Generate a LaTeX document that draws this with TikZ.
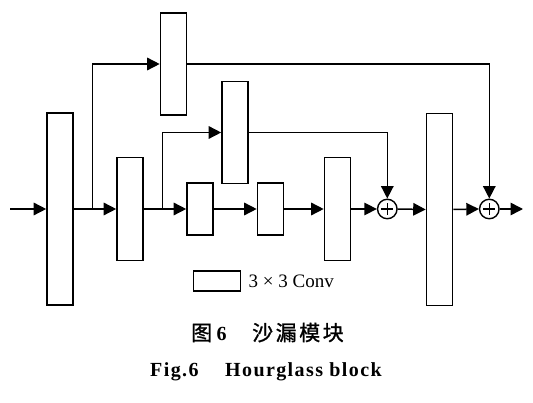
\documentclass[tikz,border=0pt]{standalone}
\usepackage{fontspec}
\setmainfont{Liberation Serif}
\newfontfamily\cjk[FakeBold=1.2]{Noto Sans CJK SC}
\usetikzlibrary{arrows.meta}
\begin{document}
\begin{tikzpicture}[x=1pt,y=-1pt,
  box/.style={draw,line width=1.6pt,inner sep=0pt,minimum width=26pt,fill=white},
  con/.style={line width=1.5pt,-{Triangle[length=12.5pt,width=12.5pt]}},
  plus/.style={draw,circle,line width=1.4pt,inner sep=0pt,minimum size=19.5pt,
    path picture={
      \draw[line width=1.2pt] ([xshift=-6pt]path picture bounding box.center) -- ([xshift=6pt]path picture bounding box.center);
      \draw[line width=1.2pt] ([yshift=-6pt]path picture bounding box.center) -- ([yshift=6pt]path picture bounding box.center);}},
  txt/.style={inner sep=0pt,anchor=base west}
]
\useasboundingbox (0,0) rectangle (533,403);

% boxes
\node[box,minimum height=192pt] (b1) at (60,209) {};
\node[box,minimum height=103pt] (b2) at (130,209) {};
\node[box,minimum height=102pt] (top) at (173.5,64) {};
\node[box,minimum height=102pt] (mid) at (235,132.5) {};
\node[box,minimum height=52pt] (s1) at (200,209) {};
\node[box,minimum height=52pt] (s2) at (270.5,209) {};
\node[box,minimum height=103pt] (b3) at (337.5,209) {};
\node[plus] (p1) at (387.3,209) {};
\node[box,minimum height=192pt] (b4) at (439.5,209.5) {};
\node[plus] (p2) at (489.3,209) {};

\coordinate (in) at (10,209);
\coordinate (out) at (523,209);
\coordinate (br1) at (92.3,209);
\coordinate (br2) at (162.3,209);

% main chain
\draw[con] (in) -- (b1.west);
\draw[con] (b1.east) -- (b2.west);
\draw[con] (b2.east) -- (s1.west);
\draw[con] (s1.east) -- (s2.west);
\draw[con] (s2.east) -- (b3.west);
\draw[con] (b3.east) -- (p1.west);
\draw[con] (p1.east) -- (b4.west);
\draw[con] (b4.east) -- (p2.west);
\draw[con] (p2.east) -- (out);

% skip branches
\draw[con] (br1) |- (top.west);
\draw[con] (br2) |- (mid.west);
\draw[con] (top.east) -| (p2.north);
\draw[con] (mid.east) -| (p1.north);

% legend
\node[draw,line width=1.4pt,inner sep=0pt,minimum width=47pt,minimum height=20pt] (leg) at (217,281) {};
\node[txt] (legt) at (248.5,287.3) {\fontsize{19}{22}\selectfont 3 × 3 Conv};

% captions
\node[txt] (cn1) at (191,340.5) {\fontsize{21}{24}\selectfont\cjk 图};
\node[txt] (cn2) at (216.5,340.5) {\fontsize{20}{24}\selectfont\bfseries 6};
\node[txt] (cn3) at (252,340.5) {\fontsize{21}{24}\selectfont\cjk\addfontfeature{LetterSpace=12}沙漏模块};
\node[txt] (en1) at (150,376.5) {\fontsize{20}{22}\selectfont\bfseries\addfontfeature{LetterSpace=7}Fig.6};
\node[txt] (en2) at (225,376.5) {\fontsize{20}{22}\selectfont\bfseries\addfontfeature{LetterSpace=7}Hourglass block};
\end{tikzpicture}
\end{document}
